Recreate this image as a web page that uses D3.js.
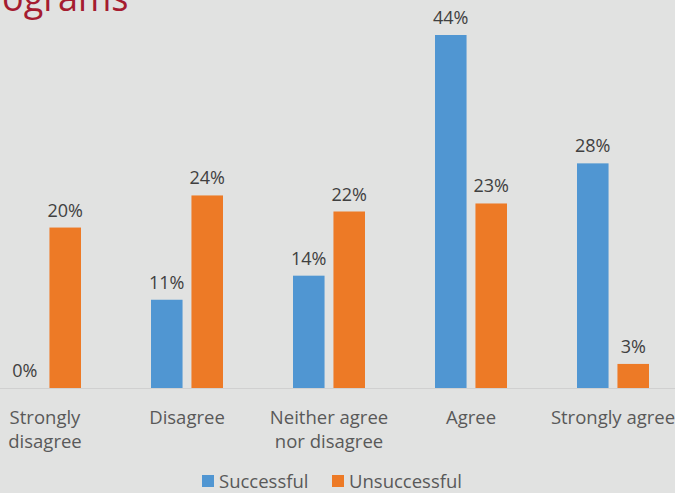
<!DOCTYPE html>
<html><head><meta charset="utf-8">
<script src="https://cdn.jsdelivr.net/npm/d3@7"></script>
<style>html,body{margin:0;padding:0;background:#e1e2e1;overflow:hidden}</style>
</head><body>
<svg id="c" width="675" height="493"></svg>
<script>
const categories = ["Strongly disagree","Disagree","Neither agree nor disagree","Agree","Strongly agree"];
const categoryLines = [["Strongly","disagree"],["Disagree"],["Neither agree","nor disagree"],["Agree"],["Strongly agree"]];
const seriesNames = ["Successful","Unsuccessful"];
const successful = [0, 11, 14, 44, 28];
const unsuccessful = [20, 24, 22, 23, 3];
const colors = ["#5096d2","#ed7a26"];

const svg = d3.select("#c");
const font = "'Open Sans', 'Noto Sans', sans-serif";
svg.append("rect").attr("width",675).attr("height",493).attr("fill","#e1e2e1");

svg.append("text").attr("x",2).attr("y",11).attr("fill","#a51c30")
  .attr("font-family",font).attr("font-size",36).text("ograms");

const x0 = d3.scaleBand().domain(categories).range([-26, 684]).paddingInner(0).paddingOuter(0);
const x1 = d3.scaleBand().domain(seriesNames).range([35, 107]).paddingInner(0.22).paddingOuter(0);
const y = d3.scaleLinear().domain([0, 44]).range([388, 35]);

svg.append("line").attr("x1",0).attr("x2",675).attr("y1",388.5).attr("y2",388.5).attr("stroke","#d0d0d0");

const data = categories.map((c,i)=>({c, vals:[successful[i], unsuccessful[i]]}));
const g = svg.selectAll("g.cat").data(data).enter().append("g").attr("transform",d=>`translate(${x0(d.c)},0)`);
g.selectAll("rect").data(d=>d.vals.map((v,j)=>({v,s:seriesNames[j],j}))).enter().append("rect")
  .attr("x",d=>x1(d.s)).attr("width",x1.bandwidth())
  .attr("y",d=>y(d.v)).attr("height",d=>y(0)-y(d.v)).attr("fill",d=>colors[d.j]);
g.selectAll("text.lab").data(d=>d.vals.map((v,j)=>({v,s:seriesNames[j],j}))).enter().append("text")
  .attr("class","lab").attr("x",d=>x1(d.s)+x1.bandwidth()/2).attr("y",d=>y(d.v)-11)
  .attr("text-anchor","middle").attr("font-family",font).attr("font-size",18).attr("fill","#404040")
  .text(d=>d.v+"%");

categories.forEach((c,i)=>{
  const cx = x0(c)+x0.bandwidth()/2;
  const t = svg.append("text").attr("x",cx).attr("y",424)
    .attr("text-anchor","middle").attr("font-family",font).attr("font-size",18.5).attr("fill","#595959");
  categoryLines[i].forEach((l,k)=>t.append("tspan").attr("x",cx).attr("dy",k?24:0).text(l));
});

const legX = [202, 332];
seriesNames.forEach((s,j)=>{
  svg.append("rect").attr("x",legX[j]).attr("y",475).attr("width",12).attr("height",12).attr("fill",colors[j]);
  svg.append("text").attr("x",legX[j]+17).attr("y",488).attr("font-family",font).attr("font-size",18.5)
    .attr("fill","#595959").text(s);
});
</script>
</body></html>
